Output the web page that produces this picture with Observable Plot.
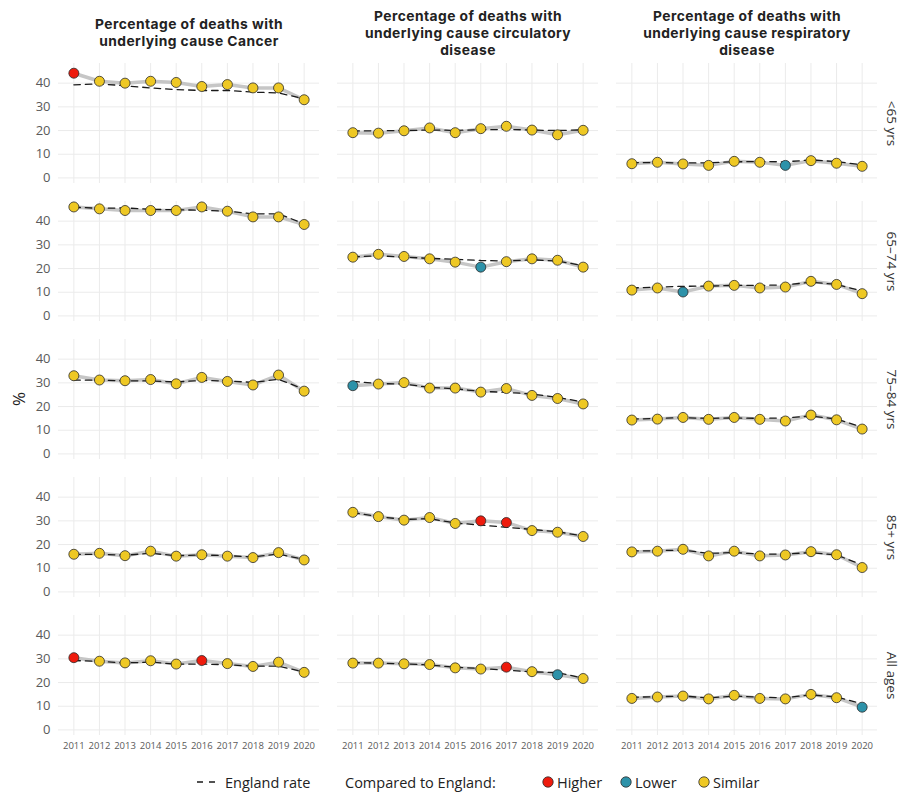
<!DOCTYPE html>
<html>
<head>
<meta charset="utf-8">
<script src="https://cdn.jsdelivr.net/npm/d3@7"></script>
<script src="https://cdn.jsdelivr.net/npm/@observablehq/plot@0.6"></script>
<style>
  html, body { margin: 0; padding: 0; background: #fff; }
  body { font-family: "Open Sans", "Noto Sans", sans-serif; color: #222; }
  #wrap { position: relative; width: 901px; height: 792px; overflow: hidden; }
  #wrap svg.plot { position: absolute; left: 0; top: 0; }
  .abs { position: absolute; transform: translateY(-50%); white-space: nowrap; }
  .lg { font-size: 14.5px; color: #222; }
  .ylab { position: absolute; left: 18px; top: 399px; transform: translate(-50%, -50%) rotate(-90deg); font-size: 17px; color: #222; }
</style>
</head>
<body>
<div id="wrap"></div>
<script>
// Years on the x axis
const years = [2011, 2012, 2013, 2014, 2015, 2016, 2017, 2018, 2019, 2020];

// Facet rows (age bands) and columns (underlying cause)
const ageBands = ["<65 yrs", "65–74 yrs", "75–84 yrs", "85+ yrs", "All ages"];
const causes = ["Cancer", "Circulatory disease", "Respiratory disease"];
const causeTitles = [
  "Percentage of deaths with\nunderlying cause Cancer",
  "Percentage of deaths with\nunderlying cause circulatory\ndisease",
  "Percentage of deaths with\nunderlying cause respiratory\ndisease"
];

// Comparison categories: H = Higher, L = Lower, S = Similar
const compareLabels = { H: "Higher", L: "Lower", S: "Similar" };
const compareColors = ["#ee1b0d", "#2d92a9", "#eec824"];

// Cancer: local %, England %, comparison (one row per age band)
const cancerRate = [
  [44.2, 40.8, 40.0, 40.8, 40.3, 38.6, 39.4, 38.0, 38.0, 33.0],
  [46.0, 45.2, 44.5, 44.5, 44.5, 46.0, 44.2, 41.8, 41.8, 38.6],
  [33.0, 31.2, 30.9, 31.4, 29.6, 32.3, 30.6, 29.1, 33.3, 26.5],
  [15.9, 16.3, 15.3, 17.2, 15.1, 15.7, 15.1, 14.5, 16.6, 13.5],
  [30.5, 29.0, 28.3, 29.2, 27.8, 29.3, 28.0, 26.8, 28.6, 24.3]
];
const cancerEngland = [
  [39.3, 39.7, 38.9, 38.0, 37.3, 36.9, 36.9, 36.2, 35.9, 33.4],
  [45.9, 45.4, 45.6, 45.0, 44.8, 44.6, 44.2, 43.1, 43.1, 38.9],
  [31.2, 31.1, 30.9, 30.8, 30.4, 31.0, 30.8, 30.2, 31.5, 27.3],
  [15.8, 15.9, 15.5, 16.3, 15.3, 15.6, 15.3, 14.8, 16.0, 13.7],
  [29.3, 28.9, 28.3, 28.6, 27.8, 27.8, 27.5, 26.9, 26.9, 24.5]
];
const cancerVsEngland = [
  ["H", "S", "S", "S", "S", "S", "S", "S", "S", "S"],
  ["S", "S", "S", "S", "S", "S", "S", "S", "S", "S"],
  ["S", "S", "S", "S", "S", "S", "S", "S", "S", "S"],
  ["S", "S", "S", "S", "S", "S", "S", "S", "S", "S"],
  ["H", "S", "S", "S", "S", "H", "S", "S", "S", "S"]
];

// Circulatory disease
const circRate = [
  [19.1, 18.9, 19.9, 21.1, 19.1, 20.8, 21.8, 20.2, 18.2, 20.1],
  [24.8, 26.0, 25.1, 24.1, 22.7, 20.6, 22.9, 24.1, 23.5, 20.6],
  [28.8, 29.5, 30.1, 27.8, 27.8, 26.1, 27.6, 24.7, 23.4, 21.1],
  [33.6, 31.8, 30.3, 31.4, 28.9, 30.0, 29.3, 25.9, 25.2, 23.4],
  [28.2, 28.2, 27.9, 27.6, 26.2, 25.7, 26.5, 24.6, 23.3, 21.7]
];
const circEngland = [
  [19.8, 19.9, 20.0, 20.2, 20.1, 20.3, 20.5, 20.2, 20.0, 20.3],
  [24.9, 25.4, 24.8, 24.3, 23.9, 23.4, 23.2, 23.7, 23.2, 21.2],
  [30.6, 29.7, 29.5, 28.1, 27.5, 26.4, 26.0, 25.3, 23.9, 21.9],
  [33.5, 31.8, 30.6, 30.9, 29.1, 28.2, 27.3, 26.4, 25.4, 23.6],
  [28.4, 28.2, 27.9, 27.4, 26.5, 25.9, 25.2, 24.5, 24.2, 21.9]
];
const circVsEngland = [
  ["S", "S", "S", "S", "S", "S", "S", "S", "S", "S"],
  ["S", "S", "S", "S", "S", "L", "S", "S", "S", "S"],
  ["L", "S", "S", "S", "S", "S", "S", "S", "S", "S"],
  ["S", "S", "S", "S", "S", "H", "H", "S", "S", "S"],
  ["S", "S", "S", "S", "S", "S", "H", "S", "L", "S"]
];

// Respiratory disease
const respRate = [
  [6.0, 6.6, 5.9, 5.3, 7.0, 6.6, 5.3, 7.3, 6.2, 4.9],
  [10.9, 11.8, 10.1, 12.6, 12.9, 11.8, 12.2, 14.6, 13.3, 9.4],
  [14.3, 14.7, 15.4, 14.6, 15.4, 14.6, 13.9, 16.4, 14.4, 10.5],
  [16.9, 17.2, 18.0, 15.2, 17.2, 15.2, 15.6, 17.0, 15.7, 10.3],
  [13.3, 13.9, 14.3, 13.1, 14.6, 13.3, 13.1, 15.0, 13.6, 9.6]
];
const respEngland = [
  [6.4, 6.5, 6.3, 6.4, 6.8, 6.9, 6.8, 7.6, 6.9, 5.5],
  [11.8, 12.2, 12.5, 12.6, 12.9, 12.9, 13.1, 14.2, 13.3, 10.5],
  [14.7, 15.0, 15.3, 15.0, 15.2, 15.0, 15.2, 16.0, 14.7, 11.3],
  [17.3, 17.4, 17.7, 16.3, 16.6, 16.0, 16.0, 16.6, 15.6, 11.4],
  [13.8, 14.0, 14.3, 13.5, 14.3, 13.8, 13.6, 14.8, 13.9, 11.0]
];
const respVsEngland = [
  ["S", "S", "S", "S", "S", "S", "L", "S", "S", "S"],
  ["S", "S", "L", "S", "S", "S", "S", "S", "S", "S"],
  ["S", "S", "S", "S", "S", "S", "S", "S", "S", "S"],
  ["S", "S", "S", "S", "S", "S", "S", "S", "S", "S"],
  ["S", "S", "S", "S", "S", "S", "S", "S", "S", "L"]
];

const yTicks = [0, 10, 20, 30, 40];

// Long table: one row per cause × age band × year
const rateSets = [cancerRate, circRate, respRate];
const englandSets = [cancerEngland, circEngland, respEngland];
const compareSets = [cancerVsEngland, circVsEngland, respVsEngland];
const rows = [];
causes.forEach((cause, ci) => {
  ageBands.forEach((age, ai) => {
    years.forEach((year, yi) => {
      rows.push({
        cause, age, year,
        rate: rateSets[ci][ai][yi],
        england: englandSets[ci][ai][yi],
        compare: compareLabels[compareSets[ci][ai][yi]]
      });
    });
  });
});
const titleRows = causes.map((cause, i) => ({ cause, age: ageBands[0], title: causeTitles[i] }));
const stripRows = ageBands.map(age => ({ cause: causes[2], age }));

const font = "'Open Sans', 'Noto Sans', sans-serif";
const titleFont = "Inter, 'Open Sans', sans-serif";
const facet = { fx: "cause", fy: "age" };

const chart = Plot.plot({
  width: 901,
  height: 758,
  marginTop: 62,
  marginLeft: 58,
  marginRight: 23.6,
  marginBottom: 22,
  style: { fontFamily: font, background: "white", overflow: "visible" },
  fx: { domain: causes, paddingInner: 0.0652, paddingOuter: 0, axis: null, label: null },
  fy: { domain: ageBands, paddingInner: 0.134, paddingOuter: 0, axis: null, label: null },
  x: { domain: [2010.4, 2020.6], label: null },
  y: { domain: [-2.35, 48.3], label: null },
  color: { domain: ["Higher", "Lower", "Similar"], range: compareColors },
  marks: [
    Plot.gridX(years, { stroke: "#ebebeb", strokeOpacity: 1, strokeWidth: 1 }),
    Plot.gridY(yTicks, { stroke: "#ebebeb", strokeOpacity: 1, strokeWidth: 1 }),
    Plot.axisX({ ticks: years, tickFormat: d => String(d), tickSize: 0, tickPadding: 7, fontSize: 9.5, color: "#5a5a5a", label: null }),
    Plot.axisY({ ticks: yTicks, tickSize: 0, tickPadding: 8, fontSize: 13, color: "#5a5a5a", label: null }),
    Plot.line(rows, { ...facet, x: "year", y: "rate", z: null, stroke: "#c6c6c6", strokeWidth: 3.5 }),
    Plot.line(rows, { ...facet, x: "year", y: "england", z: null, stroke: "#1a1a1a", strokeWidth: 1.3, strokeDasharray: "6.5,5" }),
    Plot.dot(rows, { ...facet, x: "year", y: "rate", fill: "compare", stroke: "#2b2b2b", strokeWidth: 0.8, r: 5 }),
    Plot.text(titleRows, { ...facet, text: "title", frameAnchor: "top", dy: -31, lineAnchor: "middle", fontFamily: titleFont, fontWeight: "bold", fontSize: 13.8, lineHeight: 1.23, fill: "#222" }),
    Plot.text(stripRows, { ...facet, text: "age", frameAnchor: "right", dx: 13.5, rotate: 90, textAnchor: "middle", lineAnchor: "middle", fontSize: 13.5, fill: "#333" })
  ]
});
chart.classList.add("plot");
// Slightly looser tracking for the column titles
chart.querySelectorAll('g[font-weight="bold"]').forEach(g => { g.style.letterSpacing = "0.45px"; });

const wrap = document.getElementById("wrap");
wrap.appendChild(chart);

// Y axis title
const ylab = document.createElement("div");
ylab.className = "ylab";
ylab.textContent = "%";
wrap.appendChild(ylab);

// Legend along the bottom
const legendY = 782;
function addText(x, text) {
  const el = document.createElement("div");
  el.className = "abs lg";
  el.style.left = x + "px";
  el.style.top = legendY + "px";
  el.textContent = text;
  wrap.appendChild(el);
}
function addSwatch(x, w, inner) {
  const ns = "http://www.w3.org/2000/svg";
  const s = document.createElementNS(ns, "svg");
  s.setAttribute("width", w);
  s.setAttribute("height", 14);
  s.setAttribute("class", "abs");
  s.style.left = x + "px";
  s.style.top = legendY + "px";
  s.innerHTML = inner;
  wrap.appendChild(s);
}
addSwatch(196, 24, '<line x1="1" y1="7" x2="23" y2="7" stroke="#1a1a1a" stroke-width="1.3" stroke-dasharray="6,6"/>');
addText(225, "England rate");
addText(345, "Compared to England:");
const legendItems = [["Higher", 541], ["Lower", 619], ["Similar", 697]];
legendItems.forEach(([label, x], i) => {
  addSwatch(x, 14, `<circle cx="7" cy="7" r="5.2" fill="${compareColors[i]}" stroke="#2b2b2b" stroke-width="0.8"/>`);
  addText(x + 16, label);
});
</script>
</body>
</html>
